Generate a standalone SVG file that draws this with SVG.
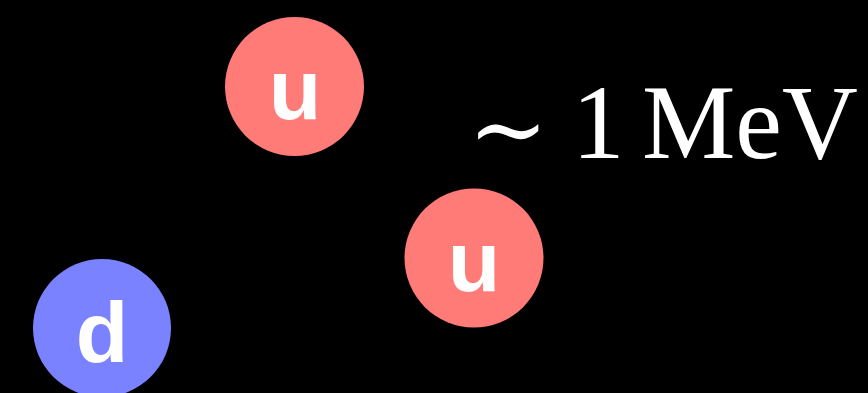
<svg xmlns="http://www.w3.org/2000/svg" width="868" height="393" viewBox="0 0 868 393">
<style>
.lbl{font-family:"Liberation Sans",Arial,sans-serif;font-weight:bold;font-size:86px;fill:#fff;text-anchor:middle}
.u{fill:#ff7b78}
.d{fill:#7b82ff}
.e{font-family:"Liberation Serif","Times New Roman",serif;font-size:105px;fill:#fff}
</style>
<rect width="868" height="393" fill="#000"/>
<g id="u1"><circle class="u" cx="294.5" cy="86.5" r="69.5"/><text class="lbl" x="295" y="119">u</text></g>
<g id="u2"><circle class="u" cx="474" cy="258" r="69.5"/><text class="lbl" x="474" y="291">u</text></g>
<g id="d"><circle class="d" cx="102" cy="328" r="69"/><text class="lbl" x="102" y="362">d</text></g>
<g id="connectors"/>
<g id="energy">
<text x="468" y="162" font-family="'DejaVu Serif',serif" font-size="96" fill="#fff">∼</text>
<text class="e" x="572" y="158">1</text>
<text class="e" x="642" y="158">MeV</text>
</g>
</svg>
